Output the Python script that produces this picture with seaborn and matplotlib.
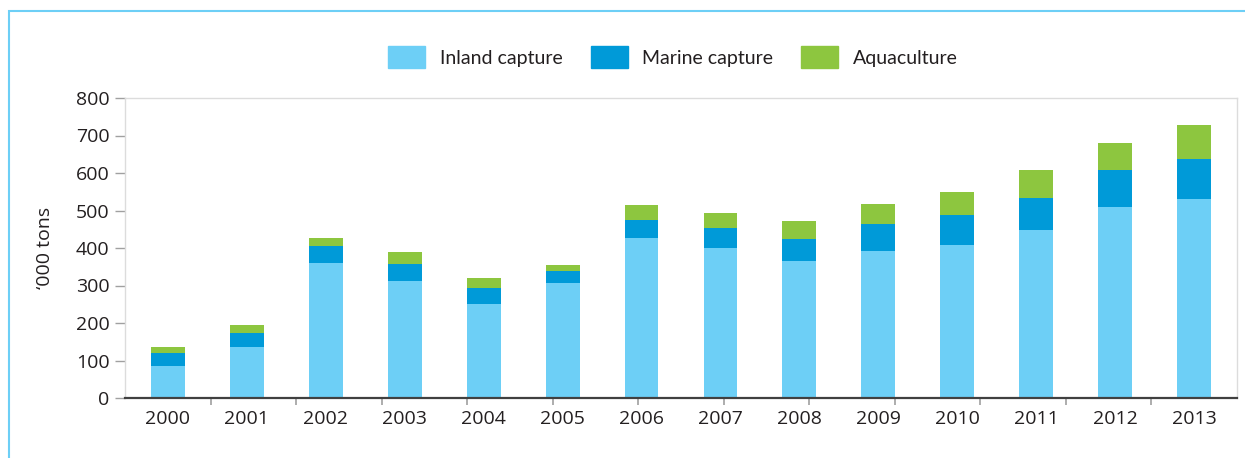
import matplotlib
matplotlib.use("Agg")
import matplotlib.pyplot as plt
import matplotlib.patches as mpatches
import numpy as np
import pandas as pd
import seaborn as sns

# data ('000 tons)
years = ["2000", "2001", "2002", "2003", "2004", "2005", "2006",
         "2007", "2008", "2009", "2010", "2011", "2012", "2013"]
inland = [85, 135, 360, 312, 250, 306, 427, 400, 365, 392, 408, 448, 510, 531]
marine = [35, 39, 45, 45, 43, 32, 48, 53, 59, 72, 80, 86, 99, 107]
aqua = [16, 21, 22, 32, 27, 16, 40, 40, 48, 53, 62, 74, 72, 91]
series_names = ["Inland capture", "Marine capture", "Aquaculture"]
colors = ["#6dcff6", "#009ad8", "#8dc63f"]

df = pd.DataFrame({"year": years, "inland": inland, "marine": marine, "aqua": aqua})
df["cum1"] = df["inland"]
df["cum2"] = df["inland"] + df["marine"]
df["cum3"] = df["cum2"] + df["aqua"]

sns.set_style("white")
plt.rcParams["font.family"] = ["Open Sans", "DejaVu Sans"]

fig = plt.figure(figsize=(12.45, 4.58), dpi=100)
ax = fig.add_axes([125 / 1245, 1 - 398 / 458, 1112 / 1245, 300 / 458])

# stacked bars: draw cumulative totals back to front
for col, c in zip(["cum3", "cum2", "cum1"], colors[::-1]):
    sns.barplot(data=df, x="year", y=col, color=c, width=0.43,
                saturation=1, ax=ax, order=years, linewidth=0)

ax.set_xlim(-0.54, 13.54)
ax.set_ylim(0, 800)
ax.set_yticks(range(0, 801, 100))
ax.set_xlabel("")
ax.set_ylabel("\u2018000 tons", fontsize=14, color="#231f20")
ax.yaxis.set_label_coords(-0.064, 0.5)

for s in ["left", "top", "right"]:
    ax.spines[s].set_color("#dcdcdc")
    ax.spines[s].set_linewidth(1.0)
ax.spines["bottom"].set_color("#404040")
ax.spines["bottom"].set_linewidth(1.6)

ax.tick_params(axis="y", left=True, length=7, width=1, color="#a0a0a0",
               labelsize=14, labelcolor="#231f20", pad=4)
ax.tick_params(axis="x", bottom=True, length=0, labelsize=14,
               labelcolor="#231f20", pad=9)

# separator ticks on the x axis (evenly spread across the axis)
lo, hi = ax.get_xlim()
sep = lo + (hi - lo) * np.arange(1, 13) / 13
ax.set_xticks(sep, minor=True)
ax.tick_params(axis="x", which="minor", bottom=True, length=5, width=1.2,
               color="#a0a0a0")

handles = [mpatches.Patch(color=c, label=n) for c, n in zip(colors, series_names)]
leg = fig.legend(handles=handles, loc="center", bbox_to_anchor=(673 / 1245, 1 - 57 / 458),
                 ncol=3, frameon=False, handlelength=1.9, handleheight=1.3,
                 handletextpad=0.75, columnspacing=1.45,
                 prop={"family": "Lato", "size": 14})
for t in leg.get_texts():
    t.set_color("#231f20")

# light blue frame around the figure (only left/top visible)
frame = mpatches.Rectangle((8.5 / 1245, -0.1), 1.2, 1 - 10.5 / 458 + 0.1,
                           transform=fig.transFigure, fill=False,
                           edgecolor="#6dcff6", linewidth=1.5)
fig.add_artist(frame)

fig.savefig("out.png", dpi=100)
